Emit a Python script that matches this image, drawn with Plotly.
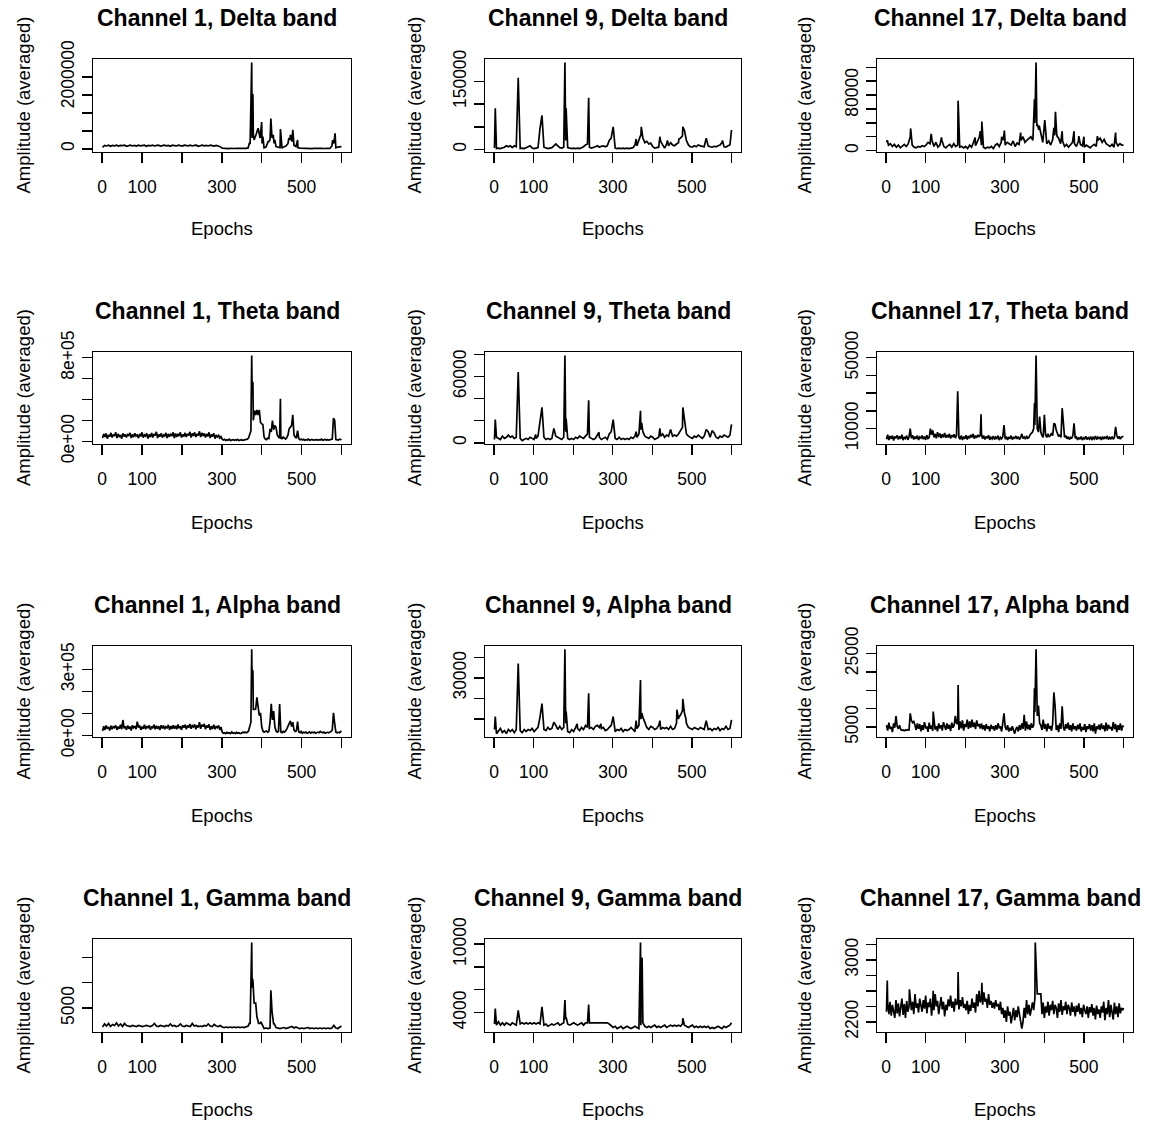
import plotly.graph_objects as go

W, H = 1151, 1123
FONT = "Liberation Sans"

# ---------------- data ----------------
n_epochs = 600
x_tickvals = [0, 100, 200, 300, 400, 500, 600]
x_ticktext = ["0", "100", "", "300", "", "500", ""]

titles = ["Channel 1, Delta band", "Channel 9, Delta band", "Channel 17, Delta band",
          "Channel 1, Theta band", "Channel 9, Theta band", "Channel 17, Theta band",
          "Channel 1, Alpha band", "Channel 9, Alpha band", "Channel 17, Alpha band",
          "Channel 1, Gamma band", "Channel 9, Gamma band", "Channel 17, Gamma band"]

# sampled every 5 epochs (1, 6, 11, ...) unless noted; values in thousands unless noted
ch1_delta = [40, 95, 80, 100, 70, 95, 85, 100, 75, 95,
             90, 100, 70, 90, 100, 80, 95, 75, 100, 85,
             90, 100, 70, 95, 85, 100, 80, 95, 100, 75,
             90, 100, 85, 95, 70, 100, 90, 80, 100, 95,
             75, 100, 90, 85, 100, 80, 95, 100, 70, 90,
             100, 85, 95, 80, 100, 90, 75, 95, 85, 60,
             20, 10, 15, 8, 12, 20, 10, 15, 12, 8,
             18, 10, 15, 25, 150, 300, 250, 400, 200, 300,
             150, 30, 50, 200, 250, 300, 150, 60, 40, 30,
             20, 60, 80, 150, 250, 200, 100, 60, 30, 20,
             15, 10, 20, 12, 10, 8, 15, 20, 10, 12,
             15, 10, 20, 12, 10, 80, 150, 30, 50, 60]
ch1_delta_spikes = [(369, 150), (375, 2400), (376, 300), (377, 1520), (378, 1500), (379, 400),
                    (391, 575), (400, 745), (403, 340), (418, 200), (423, 840), (426, 300),
                    (429, 390), (433, 250), (447, 550), (468, 300), (472, 390), (478, 530),
                    (490, 245), (578, 245), (584, 430), (600, 60)]

ch9_delta = [3, 2, 3, 2, 3, 5, 8, 6, 8, 4,
             8, 6, 3, 2, 3, 2, 4, 6, 8, 3,
             2, 3, 4, 30, 40, 5, 3, 2, 3, 4,
             8, 12, 8, 4, 3, 5, 20, 4, 3, 2,
             3, 2, 3, 2, 4, 6, 10, 12, 5, 3,
             4, 6, 8, 5, 7, 8, 6, 8, 20, 25,
             15, 3, 2, 3, 2, 3, 2, 3, 2, 3,
             4, 10, 8, 20, 30, 25, 15, 18, 12, 14,
             6, 3, 4, 5, 18, 10, 3, 12, 8, 15,
             10, 8, 12, 15, 25, 30, 35, 20, 10, 6,
             5, 8, 6, 10, 8, 7, 6, 15, 8, 6,
             5, 7, 6, 8, 10, 15, 6, 5, 8, 10]
ch9_delta_spikes = [(3, 91), (61, 158), (116, 46), (121, 75), (179, 192), (182, 91), (239, 114),
                    (297, 31), (301, 50), (359, 23), (370, 31), (372, 50), (419, 28), (438, 20),
                    (467, 23), (477, 50), (481, 42), (485, 23), (536, 25), (577, 20), (600, 43)]

ch17_delta = [12, 8, 10, 6, 9, 5, 8, 4, 7, 9,
              6, 10, 20, 8, 5, 4, 6, 5, 7, 6,
              8, 12, 10, 15, 6, 12, 5, 8, 15, 6,
              4, 7, 9, 5, 10, 6, 8, 5, 6, 4,
              6, 3, 8, 5, 12, 7, 15, 20, 8, 5,
              3, 5, 4, 6, 3, 8, 10, 6, 12, 15,
              8, 12, 10, 8, 14, 6, 11, 9, 15, 20,
              12, 15, 18, 20, 15, 40, 35, 30, 25, 12,
              20, 10, 14, 8, 16, 22, 25, 18, 10, 14,
              6, 9, 5, 8, 12, 10, 6, 14, 9, 7,
              5, 8, 6, 4, 7, 9, 6, 15, 18, 12,
              16, 10, 8, 6, 9, 5, 12, 7, 10, 8]
ch17_delta_spikes = [(3, 15), (62, 32), (114, 24), (140, 19), (182, 72), (225, 19), (238, 28),
                     (242, 42), (292, 20), (299, 29), (340, 26), (375, 74), (379, 127), (382, 38),
                     (387, 36), (401, 44), (424, 33), (428, 56), (432, 21), (445, 28), (475, 28),
                     (487, 21), (500, 20), (534, 21), (580, 26), (600, 8)]

# sampled every 3 epochs (1, 4, 7, ...)
ch1_theta = [30, 70, 40, 75, 25, 60, 45, 80, 35, 65,
             50, 85, 30, 70, 40, 60, 25, 75, 45, 65,
             35, 70, 55, 80, 30, 65, 40, 75, 50, 60,
             30, 70, 45, 85, 35, 60, 50, 75, 25, 65,
             40, 80, 35, 70, 55, 90, 30, 65, 45, 75,
             35, 60, 50, 80, 30, 70, 45, 65, 55, 85,
             30, 75, 40, 70, 50, 85, 35, 65, 45, 80,
             40, 70, 55, 90, 35, 75, 50, 85, 40, 70,
             55, 95, 40, 80, 50, 75, 35, 70, 45, 85,
             30, 65, 45, 75, 25, 60, 40, 55, 30, 45,
             20, 12, 18, 8, 15, 10, 20, 6, 12, 15,
             8, 14, 10, 18, 6, 12, 15, 8, 10, 16,
             12, 20, 30, 70, 100, 500, 200, 294, 250, 300,
             250, 300, 180, 166, 160, 40, 20, 15, 30, 25,
             118, 90, 198, 110, 150, 134, 60, 40, 30, 20,
             25, 40, 30, 20, 35, 60, 120, 134, 150, 40,
             60, 40, 30, 102, 25, 15, 20, 12, 18, 10,
             15, 12, 20, 10, 15, 18, 10, 12, 20, 15,
             10, 15, 12, 20, 10, 14, 18, 12, 15, 10,
             12, 15, 20, 221, 200, 15, 12, 10, 20, 15]
ch1_theta_spikes = [(375, 822), (377, 566), (378, 560), (447, 406), (448, 30), (478, 253),
                    (600, 20)]

ch9_theta = [3, 5, 4, 3, 6, 4, 5, 7, 5, 6,
             4, 5, 3, 4, 2, 3, 4, 3, 5, 4,
             3, 4, 6, 12, 15, 5, 3, 4, 3, 4,
             10, 6, 5, 4, 3, 5, 10, 4, 3, 4,
             3, 5, 4, 6, 5, 4, 6, 8, 5, 4,
             3, 4, 7, 5, 3, 4, 5, 3, 8, 10,
             7, 4, 3, 5, 3, 4, 3, 4, 3, 5,
             4, 6, 5, 8, 12, 10, 6, 5, 4, 6,
             5, 3, 4, 5, 6, 8, 5, 7, 6, 8,
             6, 7, 6, 8, 10, 14, 12, 8, 6, 5,
             4, 6, 5, 7, 5, 4, 6, 8, 10, 5,
             6, 9, 5, 4, 6, 5, 7, 6, 5, 7]
ch9_theta_spikes = [(3, 21), (61, 64), (105, 7.6), (116, 19), (121, 32), (151, 13), (179, 79),
                    (182, 22), (239, 38.5), (265, 9.5), (297, 13), (301, 21), (359, 10),
                    (370, 29), (373, 18), (419, 13), (446, 12), (471, 11), (477, 32), (481, 21),
                    (485, 11), (536, 12), (551, 11), (600, 16.7)]

# sampled every 3 epochs
ch17_theta = [4.0, 6.5, 3.5, 5.8, 4.2, 6.0, 3.2, 5.5, 4.5, 6.2,
              3.8, 5.6, 4.2, 6.5, 3.5, 5.0, 4.4, 6.0, 3.6, 5.2,
              10, 4.5, 6.2, 3.8, 5.5, 4.2, 6.0, 3.5, 5.2, 4.6,
              6.0, 4.0, 5.5, 3.6, 6.2, 4.4, 5.0, 10, 6.5, 9.0,
              5.0, 7.0, 4.5, 8.0, 5.2, 7.2, 4.6, 6.8, 5.0, 7.5,
              4.8, 6.5, 5.0, 7.0, 4.4, 6.2, 5.2, 6.8, 4.6, 6.0,
              31, 5.0, 4.0, 6.0, 3.5, 5.5, 4.2, 6.2, 3.8, 5.8,
              4.5, 6.5, 5.0, 7.0, 4.2, 6.0, 4.8, 6.4, 5.5, 6.0,
              7.0, 4.2, 6.0, 3.8, 5.5, 4.5, 6.2, 3.6, 5.0, 4.2,
              5.8, 3.8, 5.2, 4.4, 6.0, 3.5, 5.0, 4.2, 5.5, 12,
              4.0, 5.5, 3.6, 5.2, 4.2, 6.0, 3.8, 5.0, 4.5, 5.8,
              4.2, 5.5, 3.8, 5.0, 7.0, 4.4, 5.2, 4.0, 5.8, 4.5,
              5.0, 6.5, 7.0, 8.0, 10, 12, 51.3, 10, 8, 16.7,
              8, 6.0, 5.0, 17.7, 6.5, 5.0, 7.0, 5.5, 6.0, 7.5,
              6.0, 12.9, 12.4, 9.0, 7.0, 5.5, 6.5, 5.0, 21.5, 11,
              5.0, 6.0, 4.2, 5.5, 3.8, 5.0, 4.5, 6.0, 12.9, 4.5,
              5.2, 3.6, 5.0, 4.0, 5.5, 3.5, 4.8, 4.2, 5.6, 3.8,
              4.8, 4.0, 5.5, 3.5, 5.0, 4.2, 5.8, 3.8, 5.2, 4.4,
              5.0, 3.6, 5.5, 4.0, 5.2, 4.5, 5.8, 3.8, 5.0, 4.2,
              5.5, 4.0, 5.0, 11, 6.0, 4.4, 5.6, 4.0, 5.2, 5.5]
ch17_theta_spikes = [(240, 18), (375, 24.4), (600, 5.5)]

# sampled every 3 epochs
ch1_alpha = [20, 42, 25, 45, 30, 38, 22, 44, 28, 40,
             35, 45, 25, 40, 30, 48, 28, 70, 32, 42,
             25, 45, 30, 40, 22, 46, 35, 42, 28, 62,
             35, 45, 25, 40, 30, 48, 28, 42, 35, 45,
             25, 40, 32, 48, 28, 44, 30, 42, 25, 46,
             32, 45, 28, 40, 35, 48, 25, 42, 30, 46,
             30, 44, 28, 50, 32, 42, 25, 46, 35, 48,
             28, 45, 35, 52, 30, 44, 38, 50, 28, 46,
             35, 60, 30, 48, 40, 52, 28, 45, 35, 50,
             25, 42, 30, 48, 28, 40, 35, 45, 25, 38,
             15, 10, 12, 8, 14, 10, 12, 8, 15, 10,
             12, 8, 14, 10, 12, 8, 10, 14, 12, 15,
             12, 14, 20, 48, 60, 250, 118, 118, 120, 173,
             120, 90, 103, 40, 20, 15, 18, 20, 15, 18,
             60, 143, 70, 110, 40, 20, 15, 18, 142, 15,
             12, 18, 15, 20, 30, 40, 50, 66, 40, 60,
             25, 18, 20, 63, 15, 12, 18, 10, 14, 12,
             15, 10, 12, 16, 10, 14, 12, 15, 10, 12,
             15, 12, 18, 14, 12, 15, 10, 12, 14, 12,
             15, 18, 25, 103, 55, 15, 12, 14, 12, 20]
ch1_alpha_spikes = [(375, 391), (377, 297), (378, 290), (600, 20)]

ch9_alpha = [5, 3, 4, 5.5, 3.5, 4.5, 3, 5, 4, 5,
             3.5, 5, 4, 4.5, 3.5, 5, 4, 5, 4.5, 5.5,
             4, 5, 6, 8, 10, 5, 4.5, 6, 5, 5.5,
             6, 7, 5, 6.5, 5, 6, 8, 4, 3.5, 5,
             4, 6, 5.5, 4.5, 6, 5, 7, 6, 5.5, 6,
             5, 6.5, 7, 6, 5.5, 6, 4.5, 5, 6, 7,
             6, 4, 5, 4.5, 5.5, 4, 5, 4.5, 5, 6,
             5, 4, 5.5, 7, 10, 12, 8, 6, 5, 6.5,
             6, 5, 5.5, 7, 5, 6, 5.5, 6, 5, 6.5,
             5, 5.5, 8, 10, 12, 14, 11, 8, 6, 5.5,
             5, 6, 5.5, 5, 6, 5.5, 5, 6, 5, 5.5,
             4.5, 5.5, 5, 6, 4.5, 5.5, 5, 6.5, 5, 5.5]
ch9_alpha_spikes = [(3, 11.3), (61, 37), (116, 11), (121, 17.5), (151, 8.5), (179, 43.8),
                    (182, 13.8), (210, 7.8), (239, 22.5), (270, 7.8), (301, 11.3), (359, 9.3),
                    (370, 29), (373, 13), (376, 11), (419, 9.3), (462, 14.6), (467, 11),
                    (477, 19.8), (481, 13), (485, 10), (536, 9.3), (600, 9.7)]

# sampled every 3 epochs
ch17_alpha = [5.5, 4.0, 6.2, 4.5, 5.0, 3.6, 6.0, 4.8, 8.0, 5.2,
              4.5, 5.5, 4.3, 4.1, 4.2, 4.0, 4.2, 4.1, 4.3, 4.2,
              8.7, 6.8, 6.2, 6.5, 5.5, 4.2, 6.0, 4.5, 5.8, 3.8,
              5.5, 4.2, 6.3, 4.8, 5.0, 3.7, 6.2, 4.5, 5.4, 4.0,
              6.4, 4.3, 5.2, 3.8, 6.0, 4.6, 5.5, 4.0, 6.3, 5.0,
              4.2, 6.0, 4.5, 5.6, 3.9, 6.2, 4.8, 5.5, 8.0, 6.0,
              5.8, 4.2, 6.5, 4.6, 6.8, 4.0, 5.8, 5.0, 7.0, 4.5,
              6.5, 4.8, 7.0, 5.0, 6.2, 4.4, 6.8, 5.2, 5.8, 4.6,
              6.0, 4.4, 5.5, 4.0, 5.8, 4.5, 5.2, 3.8, 5.6, 4.5,
              5.2, 4.0, 5.5, 4.3, 6.0, 4.8, 5.0, 3.8, 6.2, 8.7,
              5.0, 4.2, 5.5, 3.8, 4.8, 4.0, 5.2, 4.4, 3.2, 4.5,
              5.0, 3.8, 5.5, 4.2, 6.0, 4.5, 5.2, 4.0, 6.5, 4.4,
              5.6, 4.2, 6.0, 4.8, 5.5, 9.0, 26.1, 8.0, 10.8, 6.0,
              5.5, 4.2, 7.0, 4.5, 5.8, 3.8, 6.0, 4.6, 5.2, 4.0,
              6.0, 14.4, 10.8, 4.2, 5.5, 3.6, 6.0, 4.5, 10.6, 5.0,
              4.0, 5.8, 4.6, 6.2, 4.2, 5.5, 3.8, 6.0, 4.4, 5.2,
              4.0, 5.6, 4.4, 6.0, 3.8, 5.0, 4.2, 5.8, 3.6, 5.2,
              4.5, 5.8, 4.0, 5.5, 3.8, 6.0, 3.2, 5.2, 4.4, 5.6,
              4.2, 6.0, 4.5, 5.4, 3.8, 6.2, 4.0, 5.6, 4.6, 5.0,
              4.0, 6.3, 4.4, 5.8, 3.6, 5.5, 4.2, 6.0, 4.0, 5.4]
ch17_alpha_spikes = [(119, 9.2), (182, 16.4), (349, 8.3), (375, 15.5), (600, 5.0)]

ch1_gamma = [1.3, 1.9, 1.5, 2.0, 1.4, 1.8, 1.6, 2.1, 1.5, 1.9,
             1.4, 2.0, 1.6, 1.5, 1.4, 1.6, 1.5, 1.4, 1.6, 1.5,
             1.4, 1.5, 1.6, 1.5, 1.4, 1.6, 2.0, 1.5, 1.4, 1.6,
             1.5, 1.4, 1.6, 1.5, 1.9, 1.5, 1.6, 1.4, 1.5, 1.9,
             1.5, 1.4, 1.6, 1.5, 1.4, 2.0, 1.5, 1.6, 1.4, 1.5,
             1.4, 1.6, 1.5, 1.9, 1.5, 1.4, 1.8, 1.5, 1.4, 1.6,
             1.3, 1.2, 1.3, 1.2, 1.3, 1.2, 1.3, 1.2, 1.3, 1.2,
             1.3, 1.2, 1.3, 1.5, 2.0, 9.0, 6.0, 5.0, 2.5, 2.0,
             1.8, 1.0, 1.1, 1.0, 1.1, 4.0, 2.0, 1.2, 1.1, 1.0,
             1.1, 1.2, 1.0, 1.1, 1.2, 1.4, 1.1, 1.3, 1.1, 1.0,
             1.1, 1.0, 1.1, 1.2, 1.0, 1.1, 1.0, 1.1, 1.0, 1.1,
             1.0, 1.1, 1.0, 1.1, 1.0, 1.1, 1.6, 1.1, 1.0, 1.2]
ch1_gamma_spikes = [(369, 2.0), (375, 17.9), (377, 10.7), (378, 10.5), (381, 6), (385, 6),
                    (388, 3.3), (392, 2), (398, 2.3), (423, 8.5), (426, 4.3), (430, 1.8),
                    (600, 1.5)]

ch9_gamma = [3.0, 2.9, 3.2, 2.9, 3.1, 2.9, 3.1, 3.0, 2.9, 3.1,
             3.0, 2.9, 3.1, 3.0, 3.1, 3.0, 3.1, 3.0, 3.1, 3.0,
             3.1, 3.0, 3.1, 3.0, 3.1, 2.9, 3.0, 2.8, 2.9, 3.0,
             2.9, 3.0, 3.1, 2.9, 3.0, 3.1, 3.4, 3.0, 2.9, 3.0,
             3.1, 3.0, 2.9, 3.0, 3.1, 2.9, 3.1, 3.1, 3.1, 3.1,
             3.1, 3.1, 3.1, 3.1, 3.1, 3.1, 3.1, 3.1, 3.0, 2.8,
             2.7, 2.8, 2.6, 2.7, 2.8, 2.6, 2.7, 2.8, 2.7, 2.6,
             2.7, 2.8, 2.7, 2.6, 2.9, 3.1, 2.8, 2.7, 2.8, 2.7,
             2.8, 2.9, 2.7, 2.8, 2.7, 2.8, 2.9, 2.7, 2.8, 2.9,
             2.8, 2.9, 2.8, 2.9, 2.8, 3.0, 2.9, 2.8, 2.7, 2.8,
             2.9, 2.7, 2.8, 2.7, 2.8, 2.7, 2.8, 2.7, 2.8, 2.6,
             2.7, 2.6, 2.7, 2.8, 2.7, 2.6, 2.8, 2.7, 2.8, 2.9]
ch9_gamma_spikes = [(3, 4.36), (61, 4.2), (121, 4.5), (179, 5.1), (182, 3.6), (239, 4.7),
                    (370, 10.15), (372, 8.8), (374, 8.75), (477, 3.5), (600, 3.1)]

# sampled every 3 epochs, raw units
ch17_gamma = [2330, 2450, 2300, 2460, 2280, 2420, 2350, 2250, 2480, 2310,
              2440, 2270, 2390, 2500, 2290, 2430, 2250, 2470, 2330, 2400,
              2520, 2350, 2460, 2300, 2560, 2380, 2440, 2320, 2500, 2400,
              2330, 2480, 2370, 2540, 2310, 2450, 2390, 2500, 2280, 2460,
              2350, 2560, 2400, 2470, 2300, 2430, 2520, 2360, 2460, 2270,
              2420, 2350, 2490, 2400, 2540, 2380, 2460, 2330, 2500, 2420,
              2450, 2360, 2480, 2400, 2520, 2380, 2430, 2350, 2470, 2300,
              2420, 2340, 2500, 2380, 2450, 2320, 2560, 2400, 2600, 2450,
              2520, 2420, 2580, 2460, 2500, 2380, 2560, 2420, 2470, 2380,
              2450, 2370, 2480, 2400, 2430, 2350, 2460, 2300, 2380, 2250,
              2350, 2200, 2400, 2280, 2330, 2180, 2300, 2380, 2220, 2350,
              2260, 2400, 2300, 2200, 2350, 2200, 2380, 2250, 2480, 2300,
              2420, 2280, 2380, 2450, 2350, 2500, 2931, 2560, 2560, 2560,
              2560, 2300, 2450, 2250, 2400, 2320, 2460, 2280, 2420, 2350,
              2470, 2300, 2420, 2380, 2250, 2440, 2330, 2480, 2290, 2400,
              2350, 2460, 2300, 2420, 2380, 2280, 2450, 2330, 2400, 2270,
              2410, 2330, 2440, 2300, 2380, 2260, 2420, 2350, 2300, 2400,
              2250, 2390, 2320, 2430, 2280, 2380, 2230, 2410, 2300, 2360,
              2250, 2400, 2320, 2460, 2220, 2380, 2300, 2480, 2260, 2420,
              2330, 2230, 2450, 2300, 2400, 2260, 2440, 2310, 2380, 2350]
ch17_gamma_spikes = [(3, 2735), (59, 2620), (119, 2600), (182, 2844), (242, 2705), (343, 2113),
                     (377, 3226), (600, 2380)]

series = [ch1_delta, ch9_delta, ch17_delta, ch1_theta, ch9_theta, ch17_theta,
          ch1_alpha, ch9_alpha, ch17_alpha, ch1_gamma, ch9_gamma, ch17_gamma]
spikes = [ch1_delta_spikes, ch9_delta_spikes, ch17_delta_spikes, ch1_theta_spikes,
          ch9_theta_spikes, ch17_theta_spikes, ch1_alpha_spikes, ch9_alpha_spikes,
          ch17_alpha_spikes, ch1_gamma_spikes, ch9_gamma_spikes, ch17_gamma_spikes]
sample_step = [5, 5, 5, 3, 5, 3, 3, 5, 3, 5, 5, 3]
units = [1000] * 11 + [1]

y_tickvals = [[0, 5e5, 1e6, 1.5e6, 2e6], [0, 5e4, 1e5, 1.5e5],
              [0, 2e4, 4e4, 6e4, 8e4, 1e5, 1.2e5],
              [0, 2e5, 4e5, 6e5, 8e5], [0, 2e4, 4e4, 6e4, 8e4],
              [1e4, 2e4, 3e4, 4e4, 5e4],
              [0, 1e5, 2e5, 3e5], [0, 1e4, 2e4, 3e4, 4e4],
              [5000, 10000, 15000, 20000, 25000],
              [5000, 10000, 15000], [2000, 4000, 6000, 8000, 10000],
              [2200, 2400, 2600, 2800, 3000, 3200]]
y_ticktext = [["0", "", "", "", "2000000"], ["0", "", "", "150000"],
              ["0", "", "", "", "80000", "", ""],
              ["0e+00", "", "", "", "8e+05"], ["0", "", "", "60000", ""],
              ["10000", "", "", "", "50000"],
              ["0e+00", "", "", "3e+05"], ["0", "", "", "30000", ""],
              ["5000", "", "", "", "25000"],
              ["5000", "", ""], ["", "4000", "", "", "10000"],
              ["2200", "", "", "", "3000", ""]]

# ---------------- layout geometry (page pixels) ----------------
col_px = [(93, 351), (485, 741), (877, 1133)]
row_px = [(59, 152), (352, 444), (646, 737), (939, 1032)]
title_y = [18, 311, 605, 898]
title_dx = -5
xlab_y = [229, 522, 815, 1109]
ylab_x = [23, 414, 804]


def px_x(p):
    return p / W


def px_y(p):
    return 1 - p / H


def merge(base, spk, unit, step):
    pts = {1 + step * i: v for i, v in enumerate(base)}
    for e, v in spk:
        pts[e] = v
    xs = sorted(pts)
    return xs, [pts[e] * unit for e in xs]


def r_range(lo, hi):
    pad = 0.04 * (hi - lo)
    return [lo - pad, hi + pad]


fig = go.Figure()
layout = dict(width=W, height=H, margin=dict(l=0, r=0, t=0, b=0, pad=0, autoexpand=False),
              paper_bgcolor="white", plot_bgcolor="white", showlegend=False,
              template="none", annotations=[])
tickfont = dict(family=FONT, size=17.5, color="black")

for k in range(12):
    r, c = divmod(k, 3)
    xs, ys = merge(series[k], spikes[k], units[k], sample_step[k])
    sfx = "" if k == 0 else str(k + 1)
    fig.add_trace(go.Scatter(x=xs, y=ys, mode="lines",
                             line=dict(color="black", width=1.7),
                             xaxis="x" + sfx, yaxis="y" + sfx, hoverinfo="skip"))
    x0, x1 = col_px[c]
    y0, y1 = row_px[r]
    layout["xaxis" + sfx] = dict(
        domain=[px_x(x0), px_x(x1)], anchor="y" + sfx, range=r_range(1, n_epochs),
        tickmode="array", tickvals=x_tickvals, ticktext=x_ticktext, automargin=False,
        ticks="outside", ticklen=10, tickwidth=1.4, tickcolor="black",
        showline=True, linecolor="black", linewidth=1.4, mirror=True,
        showgrid=False, zeroline=False, tickfont=tickfont, ticklabelstandoff=9)
    layout["yaxis" + sfx] = dict(
        domain=[px_y(y1), px_y(y0)], anchor="x" + sfx, range=r_range(min(ys), max(ys)),
        tickmode="array", tickvals=y_tickvals[k], ticktext=y_ticktext[k], tickangle=-90,
        automargin=False,
        ticks="outside", ticklen=10, tickwidth=1.4, tickcolor="black",
        showline=True, linecolor="black", linewidth=1.4, mirror=True,
        showgrid=False, zeroline=False, tickfont=tickfont, ticklabelstandoff=1)
    cx = (x0 + x1) / 2
    layout["annotations"].append(dict(
        text="<b>" + titles[k] + "</b>", x=px_x(cx + title_dx), y=px_y(title_y[r]),
        xref="paper", yref="paper",
        showarrow=False, xanchor="center", yanchor="middle",
        font=dict(family=FONT, size=23, color="black")))
    layout["annotations"].append(dict(
        text="Epochs", x=px_x(cx), y=px_y(xlab_y[r]), xref="paper", yref="paper",
        showarrow=False, xanchor="center", yanchor="middle",
        font=dict(family=FONT, size=18.5, color="black")))
    layout["annotations"].append(dict(
        text="Amplitude (averaged)", x=px_x(ylab_x[c]), y=px_y((y0 + y1) / 2),
        xref="paper", yref="paper", showarrow=False, textangle=-90,
        xanchor="center", yanchor="middle",
        font=dict(family=FONT, size=18.5, color="black")))

fig.update_layout(**layout)
# the page body has a default 8px margin; remove it so the figure fills the window exactly
fig.write_html("out.html", config={"displayModeBar": False, "staticPlot": True},
               post_script="document.body.style.margin='0px';")
